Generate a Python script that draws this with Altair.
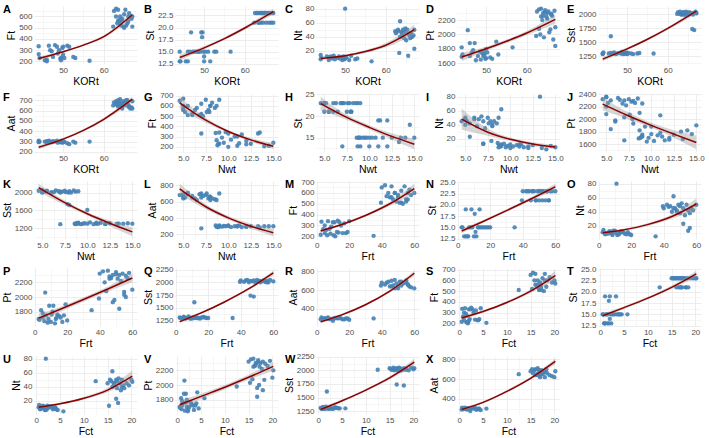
import math
import altair as alt
import pandas as pd

# ---------------- sample values (low cluster L, high cluster H) ----------------
KORt_L = [44.0, 44.0, 44.2, 45.5, 46.0, 46.0, 46.5, 46.8, 47.2, 47.5, 48.0, 48.5, 48.7, 49.0, 49.3, 49.5, 49.6, 49.8, 50.0, 50.0, 50.3, 51.0, 51.5, 52.5, 53.0, 56.5]
Nwt_L = [8.6, 8.7, 9.0, 11.0, 10.0, 8.8, 9.0, 11.0, 9.3, 9.5, 9.7, 10.0, 10.3, 10.7, 12.0, 14.5, 11.2, 11.5, 13.3, 12.0, 12.5, 13.5, 7.0, 15.0, 8.9, 14.0]
Frt_L = [3.0, 4.0, 5.0, 6.5, 11.5, 2.5, 7.0, 5.0, 9.0, 12.5, 13.0, 14.0, 8.0, 15.0, 8.5, 10.5, 13.5, 17.0, 11.0, 6.0, 18.0, 20.0, 10.0, 19.0, 16.0, 35.0]
Fct_L = [0.6, 0.8, 1.0, 1.5, 1.8, 0.5, 1.2, 1.0, 1.4, 2.2, 2.5, 2.8, 1.6, 3.0, 2.0, 1.8, 3.3, 3.5, 2.0, 0.9, 4.0, 4.5, 2.3, 4.2, 3.8, 5.7]
Ft_L = [335, 265, 230, 210, 200, 215, 340, 300, 290, 240, 345, 330, 270, 300, 225, 210, 235, 320, 330, 260, 230, 340, 330, 240, 230, 205]
St_L = [15, 13, 13, 13, 13, 15, 15, 19, 15, 15, 15, 15, 15, 15, 19, 18, 19, 15, 14, 13, 15, 15, 13, 15, 15, 15]
Nt_L = [14, 8, 10, 12, 7, 11, 12, 9, 13, 8, 10, 12, 9, 11, 7, 10, 12, 8, 80, 9, 11, 7, 13, 8, 9, 5]
Pt_L = [1690, 1820, 1720, 2060, 1880, 1700, 1750, 1780, 1880, 1640, 1700, 1760, 1650, 1740, 1700, 1760, 1720, 1660, 1800, 1670, 1750, 1680, 1660, 1900, 1720, 1820]
Sst_L = [1300, 1290, 1320, 1300, 1610, 1310, 1300, 1320, 1290, 1300, 1310, 1300, 1330, 1290, 1300, 1310, 1300, 1320, 1300, 1290, 1310, 1300, 1290, 1300, 1310, 1300]
Aat_L = [310, 295, 300, 300, 305, 290, 310, 300, 295, 305, 300, 310, 290, 300, 295, 300, 310, 290, 300, 295, 300, 285, 275, 300, 290, 300]

KORt_H = [62.3, 66.0, 66.5, 65.5, 63.3, 67.0, 62.5, 63.0, 63.0, 63.5, 63.5, 64.0, 64.0, 64.2, 64.5, 64.5, 64.8, 65.0, 65.0, 65.3, 65.8, 66.0, 66.2, 66.8, 67.0, 63.8]
Nwt_H = [6.0, 7.8, 8.0, 7.0, 7.9, 5.5, 4.6, 5.0, 5.0, 5.0, 9.0, 5.2, 5.5, 6.0, 6.3, 6.5, 6.8, 7.0, 7.2, 7.5, 7.6, 8.0, 8.2, 8.5, 8.7, 5.0]
Frt_H = [39.5, 46.0, 48.0, 55.0, 56.0, 52.0, 40.0, 42.0, 44.0, 45.0, 46.0, 47.0, 48.0, 49.0, 50.0, 50.0, 51.0, 52.0, 53.0, 54.0, 55.0, 56.0, 57.0, 58.0, 60.0, 43.0]
Fct_H = [12.5, 16.5, 18.0, 15.3, 17.2, 16.8, 15.0, 15.5, 15.8, 16.0, 16.0, 16.3, 16.5, 16.8, 17.0, 17.0, 17.3, 17.5, 17.8, 18.0, 18.3, 18.5, 19.0, 19.5, 20.0, 20.2]
Ft_H = [510, 560, 600, 520, 540, 510, 650, 670, 600, 560, 660, 540, 600, 520, 560, 580, 510, 620, 500, 660, 540, 600, 630, 580, 600, 570]
St_H = [21, 23, 21, 23, 21, 21, 23, 23, 23, 21, 23, 23, 21, 23, 23, 21, 23, 23, 23, 21, 23, 21, 23, 23, 23, 23]
Nt_H = [48, 45, 40, 13, 17, 23, 45, 50, 48, 40, 62, 45, 42, 50, 38, 48, 52, 45, 35, 50, 42, 38, 45, 42, 50, 47]
Pt_H = [1980, 2280, 1930, 2030, 2000, 1840, 2320, 2350, 2080, 2360, 2250, 2260, 2300, 1960, 2340, 2310, 2250, 2300, 2220, 2320, 2070, 2290, 2260, 2330, 2100, 2200]
Sst_H = [2010, 1740, 1720, 2020, 2000, 2030, 2040, 2010, 2050, 2000, 2030, 2020, 2040, 1990, 2010, 2050, 2030, 2000, 2020, 2040, 2010, 2030, 2000, 2050, 2020, 2040]
Aat_H = [650, 640, 620, 700, 660, 690, 680, 660, 690, 640, 700, 650, 710, 670, 640, 620, 690, 650, 670, 680, 700, 660, 640, 630, 620, 680]

# ---------------- fitted curves ----------------
GRID_KORt = [44, 50, 55, 60, 67]
GRID_Nwt = [4.6, 7.5, 10, 12.5, 15.0]
GRID_Frt = [2.5, 15, 30, 45, 60]
GRID_Fct = [0.5, 5, 10, 15, 20.2]

FIT_A = [225, 285, 345, 420, 615];      BAND_A = [18, 10, 9, 12, 25]
FIT_B = [13.8, 15.8, 17.7, 19.9, 23.3]; BAND_B = [0.6, 0.35, 0.3, 0.35, 0.6]
FIT_C = [9, 13, 19, 28, 50];            BAND_C = [2.5, 1.5, 2, 3, 7]
FIT_D = [1685, 1800, 1905, 2020, 2210]; BAND_D = [60, 30, 25, 30, 60]
FIT_E = [1200, 1383, 1556, 1751, 2060]; BAND_E = [40, 25, 20, 25, 45]
FIT_F = [245, 324, 409, 516, 710];      BAND_F = [20, 12, 12, 15, 25]
FIT_G = [630, 460, 350, 268, 205];      BAND_G = [60, 25, 15, 18, 30]
FIT_H = [22.9, 19.7, 17.4, 15.3, 13.5]; BAND_H = [1.6, 0.6, 0.5, 0.7, 1.2]
FIT_I = [48, 29.4, 19.3, 12.7, 8.2];    BAND_I = [15, 5, 2.5, 2.5, 3]
FIT_J = [2240, 2050, 1900, 1760, 1625]; BAND_J = [100, 55, 40, 60, 110]
FIT_K = [2110, 1772, 1522, 1309, 1115]; BAND_K = [90, 50, 40, 60, 100]
FIT_L = [755, 538, 403, 301, 222];      BAND_L = [65, 30, 22, 30, 45]
FIT_M = [250, 307, 392, 500, 640];      BAND_M = [15, 10, 12, 18, 45]
FIT_N = [14.2, 16.2, 18.7, 21.3, 24.0]; BAND_N = [0.5, 0.3, 0.3, 0.4, 0.7]
FIT_O = [10, 14.2, 21.7, 33.2, 51];     BAND_O = [2, 1.5, 2, 3, 8]
FIT_P = [1712, 1825, 1965, 2110, 2260]; BAND_P = [60, 35, 30, 35, 60]
FIT_Q = [1230, 1390, 1615, 1875, 2185]; BAND_Q = [35, 22, 20, 25, 45]
FIT_R = [265, 335, 445, 590, 780];      BAND_R = [18, 12, 12, 15, 28]
FIT_S = [250, 310, 394, 500, 645];      BAND_S = [18, 12, 12, 18, 45]
FIT_T = [14.7, 16.5, 18.6, 21.0, 24.0]; BAND_T = [0.5, 0.3, 0.3, 0.4, 0.7]
FIT_U = [11, 15.8, 23.6, 35.3, 55];     BAND_U = [2, 1.5, 2, 3, 8]
FIT_V = [1730, 1845, 1970, 2105, 2255]; BAND_V = [60, 35, 30, 35, 60]
FIT_W = [1280, 1440, 1637, 1861, 2150]; BAND_W = [35, 22, 20, 28, 65]
FIT_X = [290, 363, 475, 608, 780];      BAND_X = [18, 12, 12, 15, 28]

X_VARS = ["KORt", "Nwt", "Frt", "Fct"]
Y_VARS = ["Ft", "St", "Nt", "Pt", "Sst", "Aat"]
X_STEP = {"KORt": 10, "Nwt": 2.5, "Frt": 20, "Fct": 5}
X_FMT = {"KORt": "d", "Nwt": ".1f", "Frt": "d", "Fct": "d"}
Y_STEP = [100, 2.5, 20, 200, 250, 100,
          100, 5, 20, 200, 400, 200,
          100, 2.5, 20, 200, 250, 200,
          100, 2.5, 20, 200, 250, 200]

DATA = {
    "KORt": KORt_L + KORt_H, "Nwt": Nwt_L + Nwt_H, "Frt": Frt_L + Frt_H, "Fct": Fct_L + Fct_H,
    "Ft": Ft_L + Ft_H, "St": St_L + St_H, "Nt": Nt_L + Nt_H, "Pt": Pt_L + Pt_H,
    "Sst": Sst_L + Sst_H, "Aat": Aat_L + Aat_H,
}
GRID = {"KORt": GRID_KORt, "Nwt": GRID_Nwt, "Frt": GRID_Frt, "Fct": GRID_Fct}
FITS = [FIT_A, FIT_B, FIT_C, FIT_D, FIT_E, FIT_F, FIT_G, FIT_H, FIT_I, FIT_J, FIT_K, FIT_L,
        FIT_M, FIT_N, FIT_O, FIT_P, FIT_Q, FIT_R, FIT_S, FIT_T, FIT_U, FIT_V, FIT_W, FIT_X]
BANDS = [BAND_A, BAND_B, BAND_C, BAND_D, BAND_E, BAND_F, BAND_G, BAND_H, BAND_I, BAND_J, BAND_K, BAND_L,
         BAND_M, BAND_N, BAND_O, BAND_P, BAND_Q, BAND_R, BAND_S, BAND_T, BAND_U, BAND_V, BAND_W, BAND_X]
LETTERS = list("ABCDEFGHIJKLMNOPQRSTUVWX")

W, H = 103, 58
PT_COLOR = "#4682B4"
LINE_COLOR = "#8B0000"


def expand(lo, hi):
    r = hi - lo
    return [lo - 0.05 * r, hi + 0.05 * r]


def tick_values(dom, step):
    vals = []
    k0 = math.ceil(dom[0] / step - 0.5)
    k1 = math.floor(dom[1] / step)
    k = k0
    while k <= k1:
        for v in (k * step, (k + 0.5) * step):
            if dom[0] <= v <= dom[1]:
                vals.append(round(v, 6))
        k += 1
    return sorted(set(vals))


def make_axis(title, dom, step, fmt):
    major = f"abs(datum.value/{step} - round(datum.value/{step})) < 0.000001"
    return alt.Axis(
        title=title, values=tick_values(dom, step), format=fmt,
        labelExpr=f"{major} ? datum.label : ''",
        grid=True, gridColor="#EBEBEB",
        gridWidth={"condition": {"test": major, "value": 0.9}, "value": 0.45},
        ticks=False, domain=False, labelOverlap=False, labelFlush=False,
        labelFontSize=8, labelColor="#4D4D4D", labelPadding=2,
        titleFontSize=10.5, titleFontWeight="normal", titleColor="#000000", titlePadding=2,
    )


def panel(i):
    xv = X_VARS[i // 6]
    yv = Y_VARS[i % 6]
    xs, ys = DATA[xv], DATA[yv]
    gx, fy, bw = GRID[xv], FITS[i], BANDS[i]
    lo = [a - b for a, b in zip(fy, bw)]
    hi = [a + b for a, b in zip(fy, bw)]
    xdom = expand(min(xs + gx), max(xs + gx))
    ydom = expand(min(ys + lo), max(ys + hi))
    yfmt = ".1f" if Y_STEP[i] == 2.5 else "d"

    pts = pd.DataFrame({"x": xs, "y": ys})
    fit = pd.DataFrame({"x": gx, "y": fy, "lo": lo, "hi": hi})
    xs_ = alt.Scale(domain=xdom, nice=False, zero=False)
    ys_ = alt.Scale(domain=ydom, nice=False, zero=False)
    xax = make_axis(xv, xdom, X_STEP[xv], X_FMT[xv])
    yax = make_axis(yv, ydom, Y_STEP[i], yfmt)

    p = alt.Chart(pts).mark_circle(size=19, color=PT_COLOR, opacity=0.9).encode(
        x=alt.X("x:Q", scale=xs_, axis=xax),
        y=alt.Y("y:Q", scale=ys_, axis=yax),
    )
    band = alt.Chart(fit).mark_area(color="#999999", opacity=0.4, interpolate="monotone").encode(
        x=alt.X("x:Q", scale=xs_, axis=xax),
        y=alt.Y("lo:Q", scale=ys_, axis=yax),
        y2="hi:Q",
    )
    line = alt.Chart(fit).mark_line(color=LINE_COLOR, strokeWidth=1.5, interpolate="monotone").encode(
        x=alt.X("x:Q", scale=xs_, axis=xax),
        y=alt.Y("y:Q", scale=ys_, axis=yax),
    )
    lab = alt.Chart(pd.DataFrame({"t": [LETTERS[i]]})).mark_text(
        align="left", baseline="middle", fontSize=11, fontWeight="bold", color="#000000"
    ).encode(text="t:N", x=alt.value(-31), y=alt.value(4))
    return alt.layer(p, band, line, lab).properties(width=W, height=H)


chart = alt.concat(*[panel(i) for i in range(24)], columns=5, spacing={"row": 3, "column": 2}).properties(
    padding={"left": 2, "top": 3, "right": 0, "bottom": 0}, background="white"
).configure(font="Liberation Sans").configure_view(stroke=None)

chart.save("out.html", embed_options={"renderer": "svg", "actions": False})
